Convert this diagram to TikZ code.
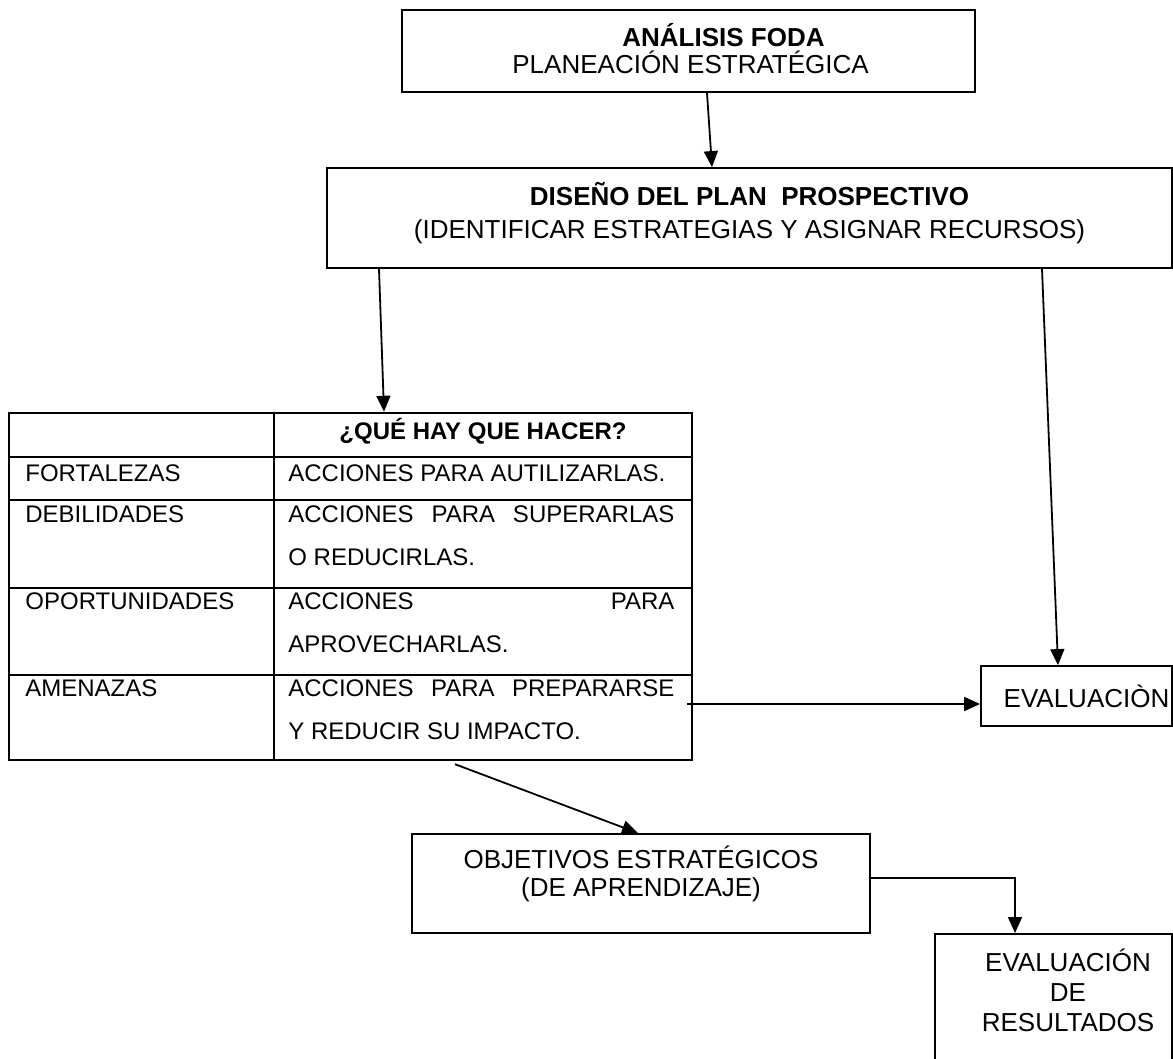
\documentclass[tikz,border=0pt]{standalone}
\usepackage{fontspec}
\setmainfont{Liberation Sans}
\usetikzlibrary{arrows.meta,calc}
\begin{document}
\begin{tikzpicture}[x=0.5pt,y=-0.5pt,
  box/.style={draw, line width=0.9pt, rectangle, inner sep=0pt},
  txt/.style={inner sep=0pt, align=center},
  arr/.style={line width=0.9pt, -{Triangle[length=8pt,width=7pt]}},
  cell/.style={inner sep=0pt, font=\fontsize{12}{14}\selectfont, anchor=base west},
  head/.style={inner sep=0pt, font=\fontsize{13}{14}\selectfont, anchor=base west},
  rule/.style={line width=1.2pt}]
\useasboundingbox (0,0) rectangle (1173,1059);
\clip (0,0) rectangle (1173,1059);
\fill[white] (0,0) rectangle (1173,1059);

% boxes
\node[box, minimum width=286.5pt, minimum height=41pt] (top) at (688.5,51) {};
\node[head] (toptxt1) at (622,46.3) {\bfseries ANÁLISIS FODA};
\node[head] (toptxt2) at (512,73.3) {PLANEACIÓN ESTRATÉGICA};

\node[box, minimum width=422.5pt, minimum height=50pt] (plan) at (749.5,218) {};
\node[txt, font=\fontsize{13}{16.5}\selectfont] (plantxt) at (749.5,213.5)
  {\textbf{DISEÑO DEL PLAN\space\space PROSPECTIVO}\\(IDENTIFICAR ESTRATEGIAS Y ASIGNAR RECURSOS)};

\node[box, minimum width=95.5pt, minimum height=30pt, font=\fontsize{13}{15}\selectfont] (eval) at (1076.5,696)
  {\hspace*{10pt}EVALUACIÒN};

\node[box, minimum width=229pt, minimum height=49.5pt] (obj) at (641,883.5) {};
\node[txt, font=\fontsize{13}{14}\selectfont] (objtxt) at (641,874)
  {OBJETIVOS ESTRATÉGICOS\\(DE APRENDIZAJE)};

\node[box, minimum width=118.5pt, minimum height=100pt, anchor=north] (res) at (1053.5,933) {};
\node[txt, font=\fontsize{13}{15}\selectfont] (restxt) at (1068,990)
  {EVALUACIÓN\\DE\\RESULTADOS};

% table
\node[draw, rule, inner sep=0pt, minimum width=341.5pt, minimum height=173.5pt] (tab) at (350.5,586.5) {};
\draw[rule] (274,413) -- (274,760);
\foreach \yy in {457,500,588,675} \draw[rule] (9,\yy) -- (692,\yy);

\node[inner sep=0pt, font=\fontsize{12}{14}\selectfont\bfseries, anchor=base] (hq) at (483,439) {¿QUÉ HAY QUE HACER?};
\node[cell] (c1) at (25,481) {FORTALEZAS};
\node[cell] (a1) at (288,481) {ACCIONES PARA AUTILIZARLAS.};
\node[cell] (c2) at (25,522) {DEBILIDADES};
\node[cell] (a2) at (288,522) {\makebox[193pt][s]{ACCIONES PARA SUPERARLAS}};
\node[cell] (a2b) at (288,565) {O REDUCIRLAS.};
\node[cell] (c3) at (25,609) {OPORTUNIDADES};
\node[cell] (a3) at (288,609) {\makebox[193pt][s]{ACCIONES PARA}};
\node[cell] (a3b) at (288,652) {APROVECHARLAS.};
\node[cell] (c4) at (25,696) {AMENAZAS};
\node[cell] (a4) at (288,696) {\makebox[193pt][s]{ACCIONES PARA PREPARARSE}};
\node[cell] (a4b) at (288,739) {Y REDUCIR SU IMPACTO.};

% connectors
\draw[arr] ([xshift=9.25pt]top.south) -- ([xshift=-18.75pt]plan.north);
\draw[arr] ([xshift=-185.25pt]plan.south) -- ([xshift=16.75pt]tab.north);
\draw[arr] ([xshift=146.25pt]plan.south) -- ([xshift=-9.25pt]eval.north);
\draw[arr] ([xshift=-3pt,yshift=-58.75pt]tab.east) coordinate (a) -- (a -| eval.west);
\draw[arr] ([xshift=52.25pt,yshift=-1.5pt]tab.south) -- ([xshift=-1.5pt]obj.north);
\draw[arr] ([yshift=2.75pt]obj.east) -| ([xshift=-19.25pt]res.north);
\end{tikzpicture}
\end{document}
